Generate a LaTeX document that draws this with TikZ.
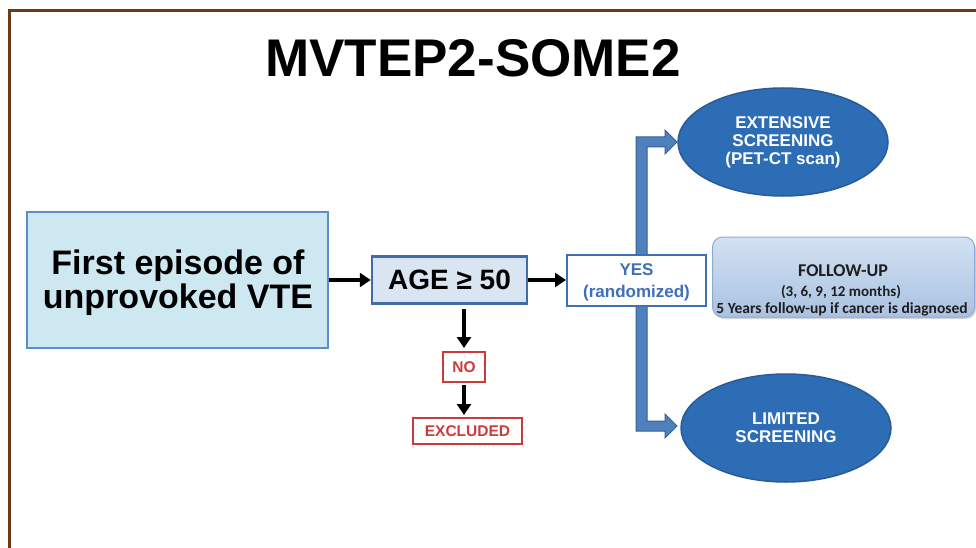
\documentclass[tikz,border=0pt]{standalone}
\usepackage{fontspec}
\setmainfont{Liberation Sans}
\newfontfamily\calfont{Carlito}
\usetikzlibrary{shapes.geometric,arrows.meta,shadows}
\definecolor{frameBrown}{HTML}{6B3A16}
\definecolor{firstFill}{HTML}{CDE8F1}
\definecolor{firstDraw}{HTML}{5B8DC9}
\definecolor{ageFill}{HTML}{DAE5F2}
\definecolor{ageDraw}{HTML}{3E6CAA}
\definecolor{redBox}{HTML}{CC3B3B}
\definecolor{yesBlue}{HTML}{3F6FB8}
\definecolor{ellFill}{HTML}{2D6DB5}
\definecolor{ellDraw}{HTML}{2A5B96}
\definecolor{barFill}{HTML}{4F81BD}
\definecolor{barDraw}{HTML}{36609A}
\definecolor{fuTop}{HTML}{D3E1F2}
\definecolor{fuBot}{HTML}{A9C2E2}
\definecolor{fuDraw}{HTML}{8EAAD2}
\definecolor{fuText}{HTML}{1E1E1E}
\begin{document}
\begin{tikzpicture}[x=1pt,y=-1pt,
  blackarrow/.style={draw=black,line width=3.5pt,-{Triangle[length=11pt,width=14pt]}},
  redbox/.style={draw=redBox,line width=2pt,fill=white,text=redBox,font=\bfseries\fontsize{15.5}{18}\selectfont,inner sep=0pt},
  ellnode/.style={ellipse,fill=ellFill,draw=ellDraw,line width=1.5pt,text=white,align=center,
     minimum width=210pt,minimum height=108pt,inner sep=0pt,font=\bfseries\fontsize{17}{18}\selectfont},
  futext/.style={inner sep=0pt,text=fuText,anchor=base},
]
\useasboundingbox (0,0) rectangle (976,548);
\fill[white] (0,0) rectangle (976,548);
\draw[frameBrown,line width=3pt] (9.5,548) -- (9.5,10.5) -- (976,10.5);

\node[font=\bfseries\fontsize{53}{60}\selectfont] (title) at (473,58) {MVTEP2-SOME2};

\node[fill=firstFill,draw=firstDraw,line width=2pt,minimum width=301pt,minimum height=136pt,
  inner sep=0pt] (first) at (177.5,280) {};
\node[align=center,inner sep=0pt,font=\bfseries\fontsize{34}{34}\selectfont] (firsttext) at (178,283)
  {First episode of\\unprovoked VTE};

\node[fill=ageFill,draw=ageDraw,line width=2.5pt,minimum width=155pt,minimum height=47pt,
  inner sep=0pt,font=\bfseries\fontsize{28}{30}\selectfont] (age) at (449.5,280) {AGE ≥ 50};

\node[redbox,minimum width=42pt,minimum height=30pt] (no) at (464,367) {NO};
\node[redbox,minimum width=109pt,minimum height=26pt] (excl) at (467.5,431) {EXCLUDED};

% block arrow (behind YES box)
\filldraw[fill=barFill,draw=barDraw,line width=1pt,line join=miter]
  (636,137) -- (665,137) -- (665,130) -- (677,142) -- (665,154) -- (665,147) -- (647,147)
  -- (647,421) -- (665,421) -- (665,414) -- (677,426) -- (665,438) -- (665,431) -- (636,431) -- cycle;

\node[fill=white,draw=yesBlue,line width=2pt,minimum width=139pt,minimum height=51pt,inner sep=0pt] (yes) at (636.5,280)
  {};
\node[align=center,inner sep=0pt,text=yesBlue,font=\bfseries\fontsize{17}{22}\selectfont] (yestext) at (636.5,282)
  {YES\\(randomized)};

\node[ellnode] (ext) at (783,142) {EXTENSIVE\\SCREENING\\(PET-CT scan)};
\node[ellnode] (lim) at (786,428) {LIMITED\\SCREENING};

\node[rounded corners=10pt,top color=fuTop,bottom color=fuBot,draw=fuDraw,line width=1pt,
  drop shadow={shadow xshift=1.5pt,shadow yshift=-2pt,opacity=0.35},
  minimum width=262pt,minimum height=80pt,inner sep=0pt] (fu) at (843.5,277) {};
\node[futext,font=\calfont\bfseries\fontsize{18}{20}\selectfont] (fu1) at (843,276) {FOLLOW-UP};
\node[futext,font=\calfont\bfseries\fontsize{15}{18}\selectfont] (fu2) at (841,296) {(3, 6, 9, 12 months)};
\node[futext,font=\calfont\bfseries\fontsize{15.5}{17}\selectfont] (fu3) at (842,313.5) {5 Years follow-up if cancer is diagnosed};

\draw[blackarrow] (first.east) -- (age.west);
\draw[blackarrow] (age.east) -- (yes.west);
\draw[blackarrow,shorten <=4pt,shorten >=3pt] (no.north |- age.south) -- (no.north);
\draw[blackarrow,shorten <=2pt,shorten >=2pt] (no.south) -- (no.south |- excl.north);
\end{tikzpicture}
\end{document}
